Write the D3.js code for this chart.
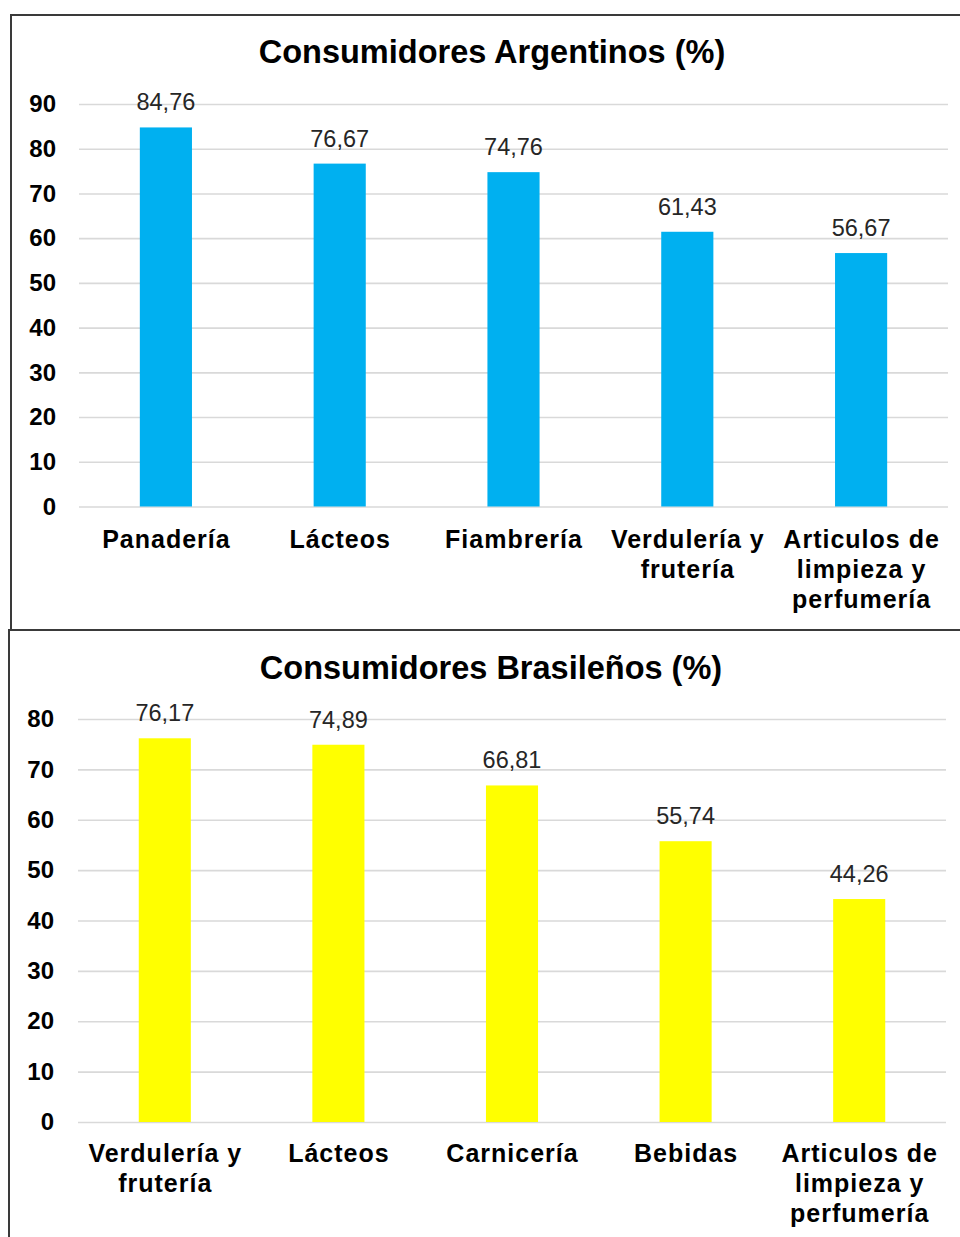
<!DOCTYPE html>
<html>
<head>
<meta charset="utf-8">
<script src="https://cdn.jsdelivr.net/npm/d3@7"></script>
<style>
  html, body { margin: 0; padding: 0; background: #fff; }
  svg { display: block; font-family: Arial, "Liberation Sans", sans-serif; }
</style>
</head>
<body>
<svg id="chart" width="960" height="1237"></svg>
<script>
// Argentine consumers
const titleAR = "Consumidores Argentinos (%)";
const categoriesAR = ["Panadería", "Lácteos", "Fiambrería", "Verdulería y\nfrutería", "Articulos de\nlimpieza y\nperfumería"];
const valuesAR = [84.76, 76.67, 74.76, 61.43, 56.67];
const ticksAR = [0, 10, 20, 30, 40, 50, 60, 70, 80, 90];

// Brazilian consumers
const titleBR = "Consumidores Brasileños (%)";
const categoriesBR = ["Verdulería y\nfrutería", "Lácteos", "Carnicería", "Bebidas", "Articulos de\nlimpieza y\nperfumería"];
const valuesBR = [76.17, 74.89, 66.81, 55.74, 44.26];
const ticksBR = [0, 10, 20, 30, 40, 50, 60, 70, 80];

const fmt = d3.formatLocale({ decimal: ",", thousands: ".", grouping: [3], currency: ["", ""] }).format(".2f");
const svg = d3.select("#chart");

function drawPanel(opts) {
  const { frame, title, titleX, titleY, cats, vals, ticks, color, x0, x1, yTop, yBottom, labelX, catY } = opts;

  // panel frame
  svg.append("rect")
    .attr("x", frame.x).attr("y", frame.y)
    .attr("width", frame.w).attr("height", frame.h)
    .attr("fill", "#fff").attr("stroke", "#3a3a3a").attr("stroke-width", 2);

  svg.append("text")
    .attr("x", titleX).attr("y", titleY)
    .attr("text-anchor", "middle")
    .attr("font-size", 32.5).attr("font-weight", "bold").attr("fill", "#000")
    .text(title);

  const x = d3.scaleBand().domain(cats).range([x0, x1]).paddingInner(0.7).paddingOuter(0.35);
  const y = d3.scaleLinear().domain([0, d3.max(ticks)]).range([yBottom, yTop]);

  const g = svg.append("g").attr("transform", `translate(${x0},0)`);
  const axis = d3.axisLeft(y).tickValues(ticks).tickSize(-(x1 - x0)).tickPadding(labelX).tickFormat(d3.format("d"));
  g.call(axis);
  g.select(".domain").remove();
  g.selectAll(".tick line").attr("stroke", "#d9d9d9").attr("stroke-width", 1.6);
  g.selectAll(".tick text")
    .attr("font-size", 24).attr("font-weight", "bold").attr("fill", "#000")
    .attr("font-family", "Arial, 'Liberation Sans', sans-serif");

  svg.append("g").selectAll("rect").data(vals).join("rect")
    .attr("x", (d, i) => x(cats[i]))
    .attr("width", x.bandwidth())
    .attr("y", d => y(d))
    .attr("height", d => yBottom - y(d))
    .attr("fill", color);

  svg.append("g").selectAll("text").data(vals).join("text")
    .attr("x", (d, i) => x(cats[i]) + x.bandwidth() / 2)
    .attr("y", d => y(d) - 17)
    .attr("text-anchor", "middle")
    .attr("font-size", 23.5).attr("fill", "#262626")
    .text(d => fmt(d));

  const cl = svg.append("g").selectAll("text").data(cats).join("text")
    .attr("text-anchor", "middle")
    .attr("font-size", 25).attr("font-weight", "bold").attr("fill", "#000")
    .attr("letter-spacing", 1)
    .attr("x", d => x(d) + x.bandwidth() / 2 + 0.5)
    .attr("y", catY);
  cl.each(function (d) {
    const t = d3.select(this);
    const cx = t.attr("x");
    d.split("\n").forEach((line, k) => {
      t.append("tspan").attr("x", cx).attr("dy", k === 0 ? 0 : 30).text(line);
    });
  });
}

drawPanel({
  frame: { x: 11, y: 15, w: 980, h: 615 },
  title: titleAR, titleX: 492, titleY: 63,
  cats: categoriesAR, vals: valuesAR, ticks: ticksAR, color: "#00b0f0",
  x0: 79, x1: 948, yTop: 104, yBottom: 506.5, labelX: 23, catY: 548
});

drawPanel({
  frame: { x: 9, y: 630, w: 980, h: 640 },
  title: titleBR, titleX: 491, titleY: 679,
  cats: categoriesBR, vals: valuesBR, ticks: ticksBR, color: "#ffff00",
  x0: 78, x1: 946, yTop: 719, yBottom: 1122, labelX: 24, catY: 1162
});
</script>
</body>
</html>
